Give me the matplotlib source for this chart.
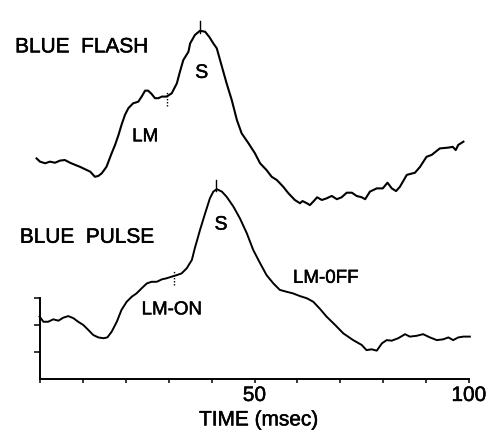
import numpy as np
import matplotlib
matplotlib.use("Agg")
import matplotlib.pyplot as plt
import matplotlib.patheffects as pe

plt.rcParams['font.family'] = ['Liberation Sans', 'DejaVu Sans']

# time (msec) and response (arbitrary units, 1 unit = one y tick)
flash_t = [-0.8, 0.0, 1.2, 2.3, 3.5, 4.7, 5.8, 7.0, 8.2, 9.3, 10.5, 11.7, 12.8, 13.6, 14.4,
           15.5, 16.7, 17.5, 18.3, 19.0, 19.8, 20.6, 21.7, 22.9, 23.7, 24.5, 25.2, 26.0, 26.8,
           27.6, 28.4, 29.5, 30.7, 31.9, 32.6, 33.4, 34.6, 35.0, 36.1, 37.3, 38.5, 39.5, 40.4,
           41.2, 42.4, 43.5, 44.7, 45.9, 47.0, 48.6, 50.1, 51.3, 52.8, 54.0, 55.2, 56.7, 57.9,
           59.4, 60.6, 61.2, 62.2, 62.9, 63.7, 64.6, 65.7, 66.8, 68.0, 69.2, 70.3, 71.5, 72.7,
           73.8, 75.0, 75.8, 76.9, 78.5, 79.9, 81.0, 82.0, 83.0, 83.9, 85.5, 87.4, 88.6, 90.1,
           91.3, 93.2, 95.2, 96.2, 96.9, 97.5, 98.7]
flash_v = [8.17, 8.05, 7.99, 8.05, 8.01, 8.09, 8.11, 8.01, 7.93, 7.86, 7.77, 7.68, 7.49, 7.52, 7.62,
           7.86, 8.36, 8.67, 9.04, 9.41, 9.78, 10.03, 10.21, 10.27, 10.46, 10.68, 10.68, 10.56, 10.40,
           10.40, 10.46, 10.46, 10.58, 10.95, 11.37, 11.81, 12.12, 12.43, 12.74, 12.90, 12.86, 12.66, 12.43,
           12.25, 11.57, 10.95, 10.33, 9.59, 9.10, 8.73, 8.36, 7.99, 7.74, 7.49, 7.37, 7.12, 6.88,
           6.63, 6.51, 6.59, 6.51, 6.44, 6.57, 6.73, 6.63, 6.69, 6.78, 6.66, 6.73, 6.90, 6.90,
           6.78, 6.73, 6.66, 6.94, 7.06, 7.06, 7.27, 7.06, 6.96, 7.12, 7.56, 7.64, 7.86, 8.23,
           8.30, 8.54, 8.57, 8.60, 8.48, 8.67, 8.79]

pulse_t = [-0.1, 0.8, 1.9, 3.1, 4.3, 5.4, 6.6, 7.8, 8.9, 10.1, 11.3, 12.4, 13.6, 14.8, 15.7,
           16.7, 17.9, 19.0, 20.2, 21.4, 22.5, 23.7, 24.9, 26.0, 27.2, 28.4, 29.5, 30.7, 31.9,
           33.0, 34.2, 35.4, 36.1, 37.3, 38.5, 39.6, 40.4, 41.2, 42.4, 43.5, 45.1, 46.6, 48.2,
           49.7, 51.3, 52.8, 54.4, 55.9, 57.5, 59.0, 60.6, 62.2, 63.7, 65.3, 66.8, 68.8, 70.7,
           73.0, 75.0, 76.1, 77.3, 78.5, 79.7, 80.8, 82.0, 83.5, 85.1, 86.2, 87.8, 89.3, 90.9,
           92.5, 94.0, 95.2, 96.3, 97.5, 98.7, 100.2]
pulse_v = [2.31, 2.12, 2.12, 2.21, 2.16, 2.27, 2.33, 2.25, 2.12, 2.00, 1.81, 1.63, 1.54, 1.51, 1.54,
           1.75, 2.12, 2.56, 2.86, 3.05, 3.17, 3.36, 3.54, 3.60, 3.60, 3.69, 3.73, 3.79, 3.85,
           3.91, 4.10, 4.41, 4.85, 5.52, 6.14, 6.69, 6.94, 7.03, 6.94, 6.75, 6.38, 5.95, 5.40,
           4.78, 4.29, 3.85, 3.54, 3.30, 3.23, 3.17, 3.07, 2.99, 2.86, 2.59, 2.31, 2.00, 1.69,
           1.44, 1.26, 1.07, 1.10, 1.05, 1.32, 1.44, 1.42, 1.51, 1.66, 1.57, 1.60, 1.66, 1.54,
           1.44, 1.47, 1.54, 1.44, 1.54, 1.57, 1.57]

# markers: (time, y bottom, y top)
flash_onset = (29.5, 10.1, 10.65)
flash_peak = (37.3, 12.8, 13.27)
pulse_onset = (31.3, 3.48, 4.04)
pulse_peak = (41.0, 6.95, 7.37)

fig = plt.figure(figsize=(5, 4.44), dpi=100)
ax = fig.add_axes([40 / 500, 65 / 444, 429 / 500, 379 / 444])

ax.plot(flash_t, flash_v, color='black', lw=1.5, clip_on=False, solid_joinstyle='round')
ax.plot(pulse_t, pulse_v, color='black', lw=1.4, clip_on=False, solid_joinstyle='round')

for t, y0, y1 in [flash_onset, pulse_onset]:
    ax.plot([t, t], [y0, y1], color='black', lw=1.0, ls=(0, (1, 1.2)))
for t, y0, y1 in [flash_peak, pulse_peak]:
    ax.plot([t, t], [y0, y1], color='black', lw=1.0)

ax.set_xlim(0, 100)
ax.set_ylim(0, 379 / 27)

for s in ['top', 'right']:
    ax.spines[s].set_visible(False)
ax.spines['left'].set_bounds(0, 3)
ax.spines['left'].set_linewidth(1.4)
ax.spines['bottom'].set_linewidth(1.4)

# slightly heavier strokes, like the printed figure
heavy = [pe.withStroke(linewidth=0.35, foreground='black')]

ax.set_xticks(np.arange(0, 101, 10))
ax.set_xticklabels(['' if v not in (50, 100) else str(v) for v in range(0, 101, 10)])
ax.set_yticks([1, 2, 3])
ax.set_yticklabels([])
ax.tick_params(axis='x', direction='out', length=3, width=1.1, labelsize=15, pad=2)
ax.tick_params(axis='y', direction='out', length=4, width=1.1)
for lab in ax.get_xticklabels():
    lab.set_path_effects(heavy)
ax.set_xlabel('TIME (msec)', fontsize=15, va='center', path_effects=heavy)
ax.xaxis.set_label_coords(0.51, -0.108)

ax.text(-5.8, 12.3, 'BLUE  FLASH', fontsize=15, ha='left', va='center', clip_on=False, path_effects=heavy)
ax.text(-4.7, 5.25, 'BLUE  PULSE', fontsize=15, ha='left', va='center', clip_on=False, path_effects=heavy)
ax.text(24.5, 8.97, 'LM', fontsize=13.5, ha='center', va='center', path_effects=heavy)
ax.text(37.7, 11.32, 'S', fontsize=14, ha='center', va='center', path_effects=heavy)
ax.text(42.2, 5.70, 'S', fontsize=14, ha='center', va='center', path_effects=heavy)
ax.text(30.7, 2.56, 'LM-ON', fontsize=13.5, ha='center', va='center', path_effects=heavy)
ax.text(66.6, 3.73, 'LM-0FF', fontsize=13.5, ha='center', va='center', path_effects=heavy)

plt.savefig('out.png', dpi=100)
